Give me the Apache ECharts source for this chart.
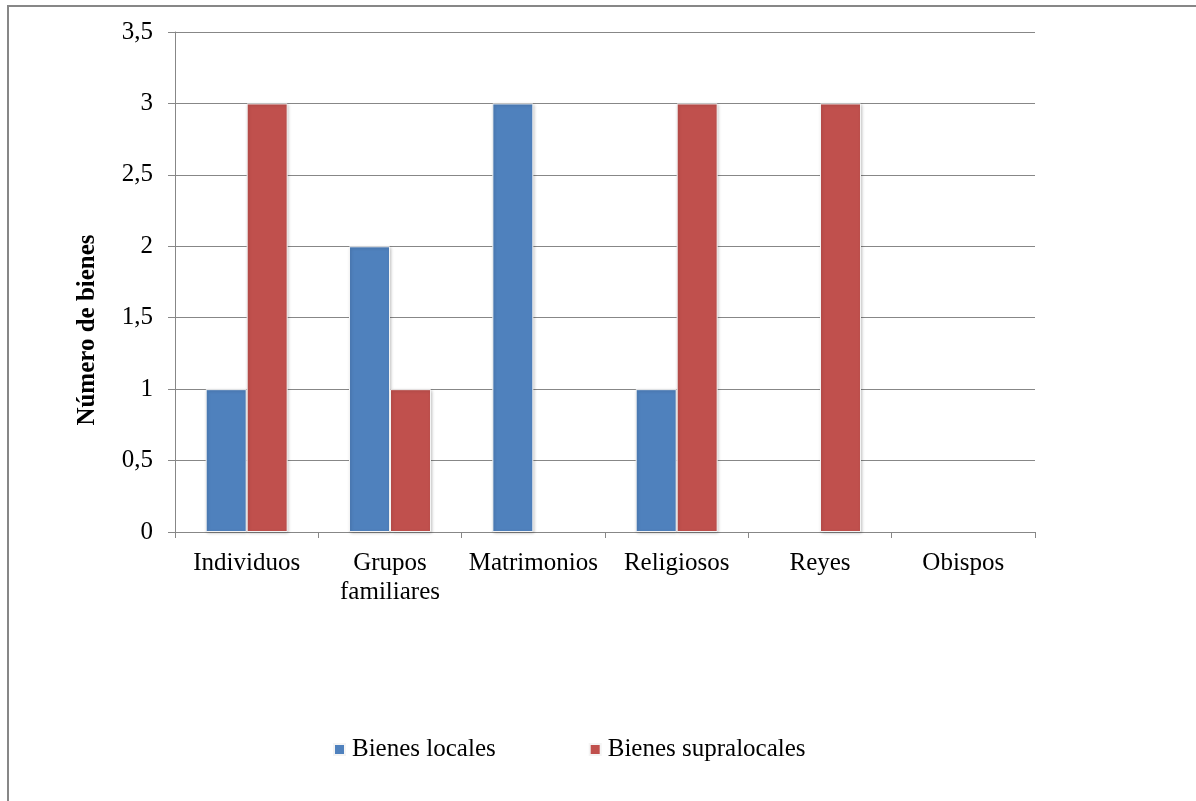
<!DOCTYPE html>
<html>
<head>
<meta charset="utf-8">
<script src="https://cdn.jsdelivr.net/npm/echarts@6/dist/echarts.min.js"></script>
<style>
  html, body { margin: 0; padding: 0; background: #ffffff; }
  #chart { width: 1196px; height: 801px; }
</style>
</head>
<body>
<div id="chart"></div>
<script>
// Categories and series values
const categories = ['Individuos', 'Grupos\nfamiliares', 'Matrimonios', 'Religiosos', 'Reyes', 'Obispos'];
const bienesLocales = [1, 2, 3, 1, 0, 0];
const bienesSupralocales = [3, 1, 0, 3, 3, 0];
const seriesNames = ['Bienes locales', 'Bienes supralocales'];
const yAxisTitle = 'Número de bienes';

const FONT = '"Liberation Serif", "Times New Roman", serif';
const FONT_SIZE = 25;
const GRID_COLOR = '#878787';

const chart = echarts.init(document.getElementById('chart'), null, { renderer: 'canvas' });

const barStyle = (color) => ({
  color: color,
  borderColor: '#f4f4f4',
  borderWidth: 1,
  shadowBlur: 3,
  shadowOffsetX: 1,
  shadowOffsetY: 1,
  shadowColor: 'rgba(0,0,0,0.22)'
});

// zero-height bars get no outline or shadow
const toBarData = (values) => values.map((v) =>
  v === 0 ? { value: v, itemStyle: { opacity: 0 } } : v
);

chart.setOption({
  animation: false,
  backgroundColor: '#ffffff',
  grid: { left: 175, right: 161, top: 32, bottom: 269, containLabel: false },
  graphic: [
    // outer frame (top and left edges)
    { type: 'line', shape: { x1: 7, y1: 6, x2: 1196, y2: 6 }, style: { stroke: '#878787', lineWidth: 2 } },
    { type: 'line', shape: { x1: 8, y1: 6, x2: 8, y2: 801 }, style: { stroke: '#878787', lineWidth: 2 } },
    {
      type: 'text',
      x: 88, y: 330,
      rotation: Math.PI / 2,
      style: {
        text: yAxisTitle,
        font: 'bold ' + FONT_SIZE + 'px ' + FONT,
        fill: '#000000',
        align: 'center',
        verticalAlign: 'middle'
      }
    }
  ],
  legend: {
    top: 732,
    left: 328,
    itemWidth: 11,
    itemHeight: 11,
    itemGap: 93,
    icon: 'rect',
    textStyle: { fontFamily: FONT, fontSize: FONT_SIZE, color: '#000000', padding: [0, 0, 0, 2] },
    data: seriesNames
  },
  xAxis: {
    type: 'category',
    data: categories,
    axisLine: { lineStyle: { color: GRID_COLOR, width: 1 } },
    axisTick: { show: true, length: 6, alignWithLabel: false, lineStyle: { color: GRID_COLOR } },
    axisLabel: {
      fontFamily: FONT, fontSize: FONT_SIZE, color: '#000000',
      margin: 17, lineHeight: 29, interval: 0
    },
    splitLine: { show: false }
  },
  yAxis: {
    type: 'value',
    min: 0, max: 3.5, interval: 0.5,
    axisLine: { show: true, lineStyle: { color: GRID_COLOR, width: 1 } },
    axisTick: { show: true, length: 7, lineStyle: { color: GRID_COLOR } },
    axisLabel: {
      fontFamily: FONT, fontSize: FONT_SIZE, color: '#000000', margin: 22,
      formatter: (v) => String(v).replace('.', ',')
    },
    splitLine: { show: true, lineStyle: { color: GRID_COLOR, width: 1 } }
  },
  series: [
    {
      name: seriesNames[0], type: 'bar', data: toBarData(bienesLocales),
      barWidth: 41, barGap: '0%',
      itemStyle: barStyle('#4f81bd')
    },
    {
      name: seriesNames[1], type: 'bar', data: toBarData(bienesSupralocales),
      barWidth: 41, barGap: '0%',
      itemStyle: barStyle('#c0504d')
    }
  ]
});
</script>
</body>
</html>
